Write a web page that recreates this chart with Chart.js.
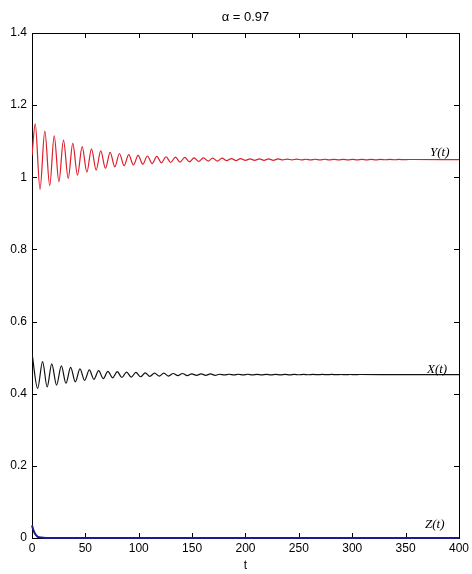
<!DOCTYPE html>
<html>
<head>
<meta charset="utf-8">
<script src="https://cdn.jsdelivr.net/npm/chart.js@4/dist/chart.umd.min.js"></script>
<style>
  html, body { margin: 0; padding: 0; background: #fff; }
</style>
</head>
<body>
<canvas id="chart" width="472" height="574"></canvas>
<script>
// Y(t) - turning points
const yTimes = [
    0, 3.0, 7.5, 12.0, 16.6, 20.8, 25.2, 29.5, 33.9, 38.2,
    42.6, 47.0, 51.4, 55.7, 60.1, 64.4, 68.8, 73.2, 77.6, 81.9,
    86.3, 90.6, 95.0, 99.4, 103.8, 108.1, 112.5, 116.9, 121.2, 125.6,
    130.0, 134.4, 138.7, 143.1, 147.5, 151.8, 156.2, 160.6, 165.0, 169.3,
    173.7, 178.1, 182.4, 186.8, 191.2, 195.5, 199.9, 204.3, 208.6, 213.0,
    217.4, 221.7, 226.1, 230.5, 234.8, 239.2, 243.6, 247.9, 252.3, 256.7,
    261.0, 265.4, 269.8, 274.1, 278.5, 282.9, 287.2, 291.6, 296.0, 300.3,
    304.7, 309.1, 313.4, 317.8, 322.2, 326.5, 330.9, 335.3, 339.6, 344.0,
    348.4, 352.7, 400
];
const yValues = [
    1.060, 1.148, 0.967, 1.128, 0.977, 1.115, 0.988, 1.103, 0.997, 1.094,
    1.006, 1.085, 1.014, 1.079, 1.020, 1.073, 1.025, 1.069, 1.029, 1.066,
    1.032, 1.063, 1.034, 1.061, 1.036, 1.059, 1.038, 1.058, 1.040, 1.057,
    1.041, 1.056, 1.042, 1.055, 1.043, 1.054, 1.044, 1.054, 1.045, 1.053,
    1.045, 1.053, 1.046, 1.052, 1.046, 1.052, 1.047, 1.051, 1.047, 1.051,
    1.047, 1.051, 1.047, 1.051, 1.048, 1.0505, 1.048, 1.0505, 1.048, 1.050,
    1.0482, 1.050, 1.0482, 1.050, 1.0482, 1.0498, 1.0484, 1.0498, 1.0484, 1.0498,
    1.0484, 1.0496, 1.0485, 1.0496, 1.0485, 1.0495, 1.0486, 1.0495, 1.0486, 1.0494,
    1.0487, 1.0493, 1.049
];

// X(t) - turning points
const xTimes = [
    0, 5.3, 9.9, 14.2, 18.5, 23.0, 27.5, 31.8, 36.2, 40.6,
    44.9, 49.3, 53.7, 58.0, 62.4, 66.8, 71.1, 75.5, 79.9, 84.2,
    88.6, 93.0, 97.3, 101.7, 106.1, 110.4, 114.8, 119.2, 123.5, 127.9,
    132.3, 136.6, 141.0, 145.4, 149.7, 154.1, 158.5, 162.8, 167.2, 171.6,
    175.9, 180.3, 184.7, 189.0, 193.4, 197.8, 202.1, 206.5, 210.9, 215.2,
    219.6, 224.0, 228.3, 232.7, 237.1, 241.4, 245.8, 250.2, 254.5, 258.9,
    263.3, 267.6, 272.0, 276.4, 280.7, 285.1, 289.5, 293.8, 298.2, 302.6,
    306.9, 400
];
const xValues = [
    0.512, 0.415, 0.489, 0.419, 0.483, 0.424, 0.477, 0.429, 0.473, 0.433,
    0.469, 0.437, 0.466, 0.440, 0.464, 0.442, 0.462, 0.444, 0.461, 0.445,
    0.460, 0.446, 0.459, 0.447, 0.458, 0.448, 0.457, 0.449, 0.457, 0.449,
    0.456, 0.450, 0.456, 0.450, 0.455, 0.451, 0.455, 0.451, 0.455, 0.451,
    0.454, 0.452, 0.454, 0.452, 0.454, 0.452, 0.454, 0.452, 0.4538, 0.4524,
    0.4537, 0.4524, 0.4537, 0.4525, 0.4536, 0.4525, 0.4536, 0.4526, 0.4535, 0.4526,
    0.4535, 0.4527, 0.4534, 0.4527, 0.4534, 0.4528, 0.4533, 0.4528, 0.4533, 0.4529,
    0.4532, 0.453
];

// Z(t) - blue curve, drops to zero almost at once
const zTimes = [0, 1, 2, 3, 4, 5, 7, 10, 15, 400];
const zValues = [0.035, 0.025, 0.017, 0.011, 0.007, 0.004, 0.002, 0.001, 0, 0];

// Axis ticks
const xTicks = [0, 50, 100, 150, 200, 250, 300, 350, 400];
const xTickLabels = ['0', '50', '100', '150', '200', '250', '300', '350', '400'];
const yTicks = [0, 0.2, 0.4, 0.6, 0.8, 1.0, 1.2, 1.4];
const yTickLabels = ['0', '0.2', '0.4', '0.6', '0.8', '1', '1.2', '1.4'];

const seriesNames = ['Y(t)', 'X(t)', 'Z(t)'];
const chartTitle = '\u03b1 = 0.97';

function toPoints(times, values) {
    return times.map((t, i) => ({ x: t, y: values[i] }));
}

// Box round the plot area plus inward tick marks (matlab style),
// drawn under the curves so the blue Z line sits on the bottom edge
const framePlugin = {
    id: 'frame',
    beforeDatasetsDraw(chart) {
        const { ctx, chartArea: a, scales } = chart;
        ctx.save();
        ctx.strokeStyle = '#000';
        ctx.lineWidth = 1;
        ctx.strokeRect(Math.round(a.left) + 0.5, Math.round(a.top) + 0.5,
            Math.round(a.right - a.left), Math.round(a.bottom - a.top));
        ctx.beginPath();
        xTicks.forEach(v => {
            const px = Math.round(scales.x.getPixelForValue(v)) + 0.5;
            ctx.moveTo(px, a.bottom); ctx.lineTo(px, a.bottom - 5);
            ctx.moveTo(px, a.top); ctx.lineTo(px, a.top + 5);
        });
        yTicks.forEach(v => {
            const py = Math.round(scales.y.getPixelForValue(v)) + 0.5;
            ctx.moveTo(a.left, py); ctx.lineTo(a.left + 5, py);
            ctx.moveTo(a.right, py); ctx.lineTo(a.right - 5, py);
        });
        ctx.stroke();
        ctx.restore();
    },
    afterDraw(chart) {
        const { ctx, chartArea: a } = chart;
        ctx.save();
        ctx.fillStyle = '#000';
        ctx.font = '13px "Liberation Sans", Arial, sans-serif';
        ctx.textAlign = 'center';
        ctx.textBaseline = 'middle';
        ctx.fillText(chartTitle, (a.left + a.right) / 2, 17);
        ctx.restore();
    }
};

// Italic name written just above the end of each curve
const labelOffsets = [[-29, -4], [-32, -2], [-34, -10]];
const seriesLabelPlugin = {
    id: 'seriesLabels',
    afterDatasetsDraw(chart) {
        const { ctx, scales } = chart;
        ctx.save();
        ctx.fillStyle = '#000';
        ctx.font = 'italic 13px "Liberation Serif", "Times New Roman", serif';
        ctx.textAlign = 'left';
        ctx.textBaseline = 'alphabetic';
        chart.data.datasets.forEach((ds, i) => {
            const last = ds.data[ds.data.length - 1];
            const px = scales.x.getPixelForValue(last.x) + labelOffsets[i][0];
            const py = scales.y.getPixelForValue(last.y) + labelOffsets[i][1];
            ctx.fillText(seriesNames[i], px, py);
        });
        ctx.restore();
    }
};

const tickFont = { family: '"Liberation Sans", Arial, sans-serif', size: 12 };

new Chart(document.getElementById('chart'), {
    type: 'line',
    data: {
        datasets: [
            {
                label: seriesNames[0],
                data: toPoints(yTimes, yValues),
                borderColor: 'rgb(222,30,40)',
                borderWidth: 1.2
            },
            {
                label: seriesNames[1],
                data: toPoints(xTimes, xValues),
                borderColor: '#111',
                borderWidth: 1.2
            },
            {
                label: seriesNames[2],
                data: toPoints(zTimes, zValues),
                borderColor: '#1c1c8c',
                borderWidth: 2,
                clip: 3
            }
        ]
    },
    options: {
        responsive: false,
        animation: false,
        devicePixelRatio: 1,
        layout: { padding: { top: 33, right: 10, left: 0, bottom: 0 } },
        elements: {
            point: { radius: 0 },
            line: { cubicInterpolationMode: 'monotone', fill: false }
        },
        plugins: {
            legend: { display: false },
            title: { display: false },
            tooltip: { enabled: false }
        },
        scales: {
            x: {
                type: 'linear',
                min: 0,
                max: 400,
                grid: { display: false, drawTicks: false },
                border: { display: false },
                afterBuildTicks: s => { s.ticks = xTicks.map(v => ({ value: v })); },
                afterFit: s => { s.height = 36; },
                ticks: {
                    color: '#000',
                    font: tickFont,
                    padding: 3,
                    maxRotation: 0,
                    autoSkip: false,
                    callback: (v, i) => xTickLabels[i]
                },
                title: {
                    display: true,
                    text: 't',
                    color: '#000',
                    font: { family: tickFont.family, size: 12 },
                    padding: { top: 0, bottom: 1 }
                }
            },
            y: {
                type: 'linear',
                min: 0,
                max: 1.4,
                grid: { display: false, drawTicks: false },
                border: { display: false },
                afterBuildTicks: s => { s.ticks = yTicks.map(v => ({ value: v })); },
                afterFit: s => { s.width = 32; },
                ticks: {
                    color: '#000',
                    font: tickFont,
                    padding: 5,
                    autoSkip: false,
                    callback: (v, i) => yTickLabels[i]
                }
            }
        }
    },
    plugins: [framePlugin, seriesLabelPlugin]
});
</script>
</body>
</html>
